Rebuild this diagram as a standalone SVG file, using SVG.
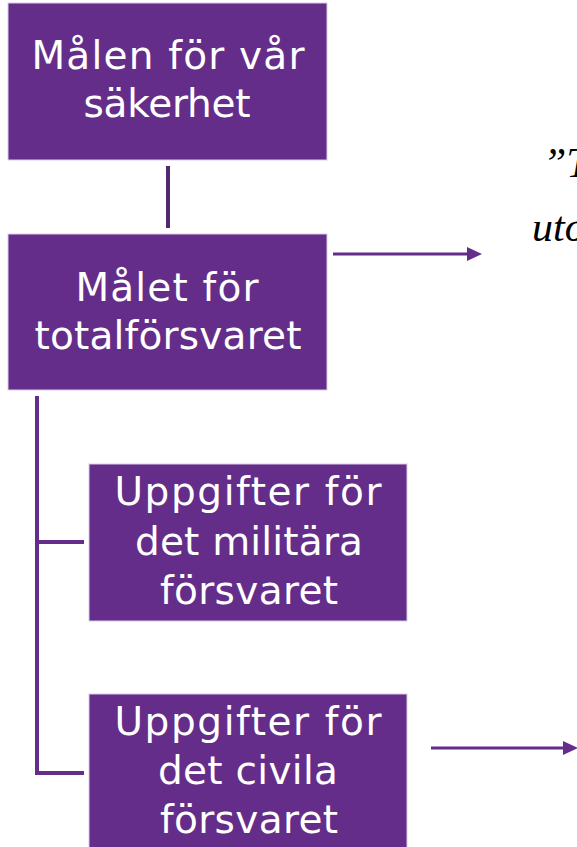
<svg xmlns="http://www.w3.org/2000/svg" width="577" height="847" viewBox="0 0 577 847">
<style>
.box{fill:#652d8a;stroke:#d9cce6;stroke-width:1}
.lbl{font-family:"DejaVu Sans",sans-serif;font-size:39px;fill:#ffffff;text-anchor:middle}
.conn{stroke:#652d8a;stroke-width:4;fill:none}
.arr{stroke:#652d8a;stroke-width:3;fill:none}
.quote{font-family:"Liberation Serif",serif;font-style:italic;font-size:42px;fill:#000000}
</style>
<defs>
<marker id="ah" markerUnits="userSpaceOnUse" markerWidth="16" markerHeight="16" refX="0" refY="7" orient="auto" viewBox="0 0 16 14">
<path d="M0,0 L15,7 L0,14 Z" fill="#652d8a"/>
</marker>
</defs>
<g id="connectors">
<line x1="168" y1="166" x2="168" y2="228" stroke="#522870" stroke-width="4"/>
<path class="conn" d="M37,396 V773 H84 M37,542 H84"/>
<line class="arr" x1="333" y1="254" x2="467" y2="254" marker-end="url(#ah)"/>
<line class="arr" x1="431" y1="748" x2="563" y2="748" marker-end="url(#ah)"/>
</g>
<g id="node-malen">
<rect class="box" x="8" y="3" width="319" height="157"/>
<text class="lbl" x="168" y="69" textLength="273" lengthAdjust="spacing">Målen för vår</text>
<text class="lbl" x="167" y="117" textLength="167" lengthAdjust="spacing">säkerhet</text>
</g>
<g id="node-malet">
<rect class="box" x="8" y="234" width="319" height="156"/>
<text class="lbl" x="167" y="301" textLength="183" lengthAdjust="spacing">Målet för</text>
<text class="lbl" x="168" y="349" textLength="267" lengthAdjust="spacing">totalförsvaret</text>
</g>
<g id="node-militara">
<rect class="box" x="89" y="464" width="318" height="157"/>
<text class="lbl" x="248" y="505" textLength="267" lengthAdjust="spacing">Uppgifter för</text>
<text class="lbl" x="249" y="555" textLength="228" lengthAdjust="spacing">det militära</text>
<text class="lbl" x="249" y="604" textLength="178" lengthAdjust="spacing">försvaret</text>
</g>
<g id="node-civila">
<rect class="box" x="89" y="694" width="318" height="160"/>
<text class="lbl" x="248" y="735" textLength="267" lengthAdjust="spacing">Uppgifter för</text>
<text class="lbl" x="248" y="784" textLength="180" lengthAdjust="spacing">det civila</text>
<text class="lbl" x="249" y="833" textLength="178" lengthAdjust="spacing">försvaret</text>
</g>
<g id="quote">
<text class="quote" x="543" y="177">”T</text>
<text class="quote" x="532" y="241">uto</text>
</g>
</svg>
